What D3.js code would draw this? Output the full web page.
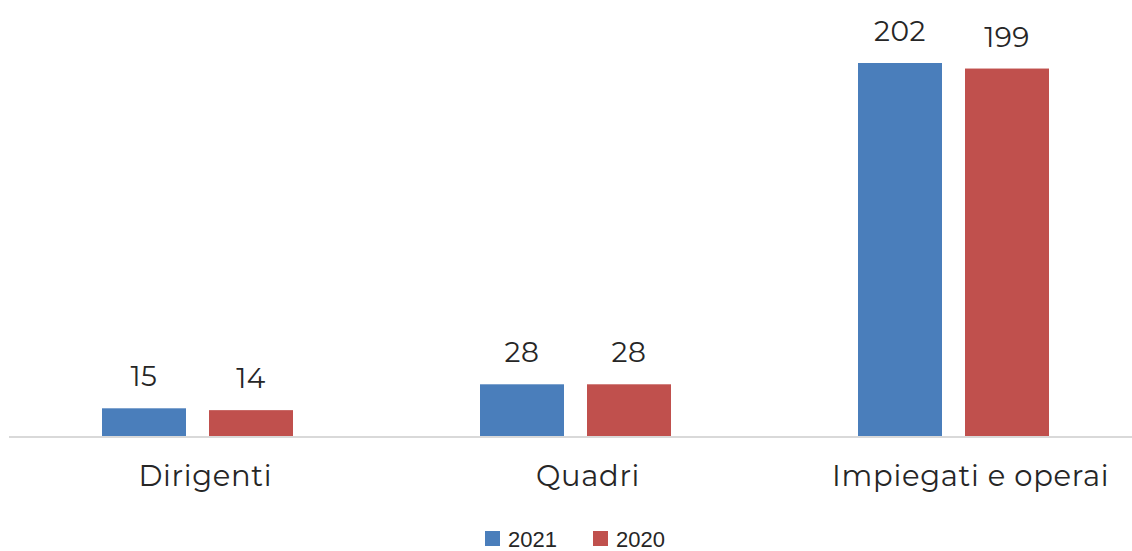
<!DOCTYPE html>
<html>
<head>
<meta charset="utf-8">
<script src="https://cdn.jsdelivr.net/npm/d3@7"></script>
<style>
  html, body { margin: 0; padding: 0; background: #fff; }
  svg { display: block; }
</style>
</head>
<body>
<svg id="chart" width="1132" height="551"></svg>
<script>
// Organico per categoria professionale
const categories = ["Dirigenti", "Quadri", "Impiegati e operai"];
const seriesNames = ["2021", "2020"];
const values2021 = [15, 28, 202];
const values2020 = [14, 28, 199];
const seriesColors = ["#4a7ebb", "#c0504d"];

const W = 1132, H = 551;
const baseY = 436;
const svg = d3.select("#chart");

// bar groups and category label positions
const x = d3.scaleBand().domain(categories).range([8.5, 1142.5]).paddingInner(0).paddingOuter(0);
const xLabel = d3.scaleBand().domain(categories).range([14, 1162]).paddingInner(0).paddingOuter(0);
const xs = d3.scaleBand().domain(seriesNames).range([0, 191]).paddingInner(23 / 107).paddingOuter(0);
const y = d3.scaleLinear().domain([0, 202]).range([baseY, 63]);

const rows = categories.map((c, i) => ({ cat: c, vals: [values2021[i], values2020[i]] }));

const groups = svg.selectAll("g.grp").data(rows).enter().append("g")
  .attr("transform", d => `translate(${x(d.cat) + x.bandwidth() / 2 - 95.5},0)`);

groups.selectAll("rect").data(d => d.vals.map((v, j) => ({ s: seriesNames[j], v, j })))
  .enter().append("rect")
  .attr("x", d => xs(d.s))
  .attr("width", xs.bandwidth())
  .attr("y", d => y(d.v))
  .attr("height", d => baseY - y(d.v))
  .attr("fill", d => seriesColors[d.j]);

const labelFont = "'Montserrat', 'Noto Sans', 'Open Sans', sans-serif";

groups.selectAll("text.val").data(d => d.vals.map((v, j) => ({ s: seriesNames[j], v, j })))
  .enter().append("text")
  .attr("class", "val")
  .attr("x", d => xs(d.s) + xs.bandwidth() / 2)
  .attr("y", d => y(d.v) - 22)
  .attr("text-anchor", "middle")
  .attr("font-family", labelFont)
  .attr("font-size", 28)
  .attr("letter-spacing", 0.5)
  .attr("fill", "#262626")
  .text(d => d.v);

// axis baseline
svg.append("line")
  .attr("x1", 9).attr("x2", W)
  .attr("y1", baseY + 1).attr("y2", baseY + 1)
  .attr("stroke", "#d9d9d9").attr("stroke-width", 2);

// category labels
const xAxis = d3.axisBottom(xLabel).tickSize(0).tickPadding(29);
const ax = svg.append("g").attr("transform", `translate(0,${baseY})`).call(xAxis);
ax.select(".domain").remove();
ax.selectAll(".tick text")
  .attr("font-family", labelFont)
  .attr("font-size", 29)
  .attr("letter-spacing", 0.7)
  .attr("fill", "#262626")
  .attr("dy", "0.71em");

// legend
const legend = svg.append("g").attr("transform", "translate(485,531)");
const legX = [0, 108];
seriesNames.forEach((s, i) => {
  const g = legend.append("g").attr("transform", `translate(${legX[i]},0)`);
  g.append("rect").attr("width", 15).attr("height", 15).attr("fill", seriesColors[i]);
  g.append("text").attr("x", 23).attr("y", 16)
    .attr("font-family", "'Liberation Sans', Arial, sans-serif")
    .attr("font-size", 22)
    .attr("fill", "#262626")
    .text(s);
});
</script>
</body>
</html>
